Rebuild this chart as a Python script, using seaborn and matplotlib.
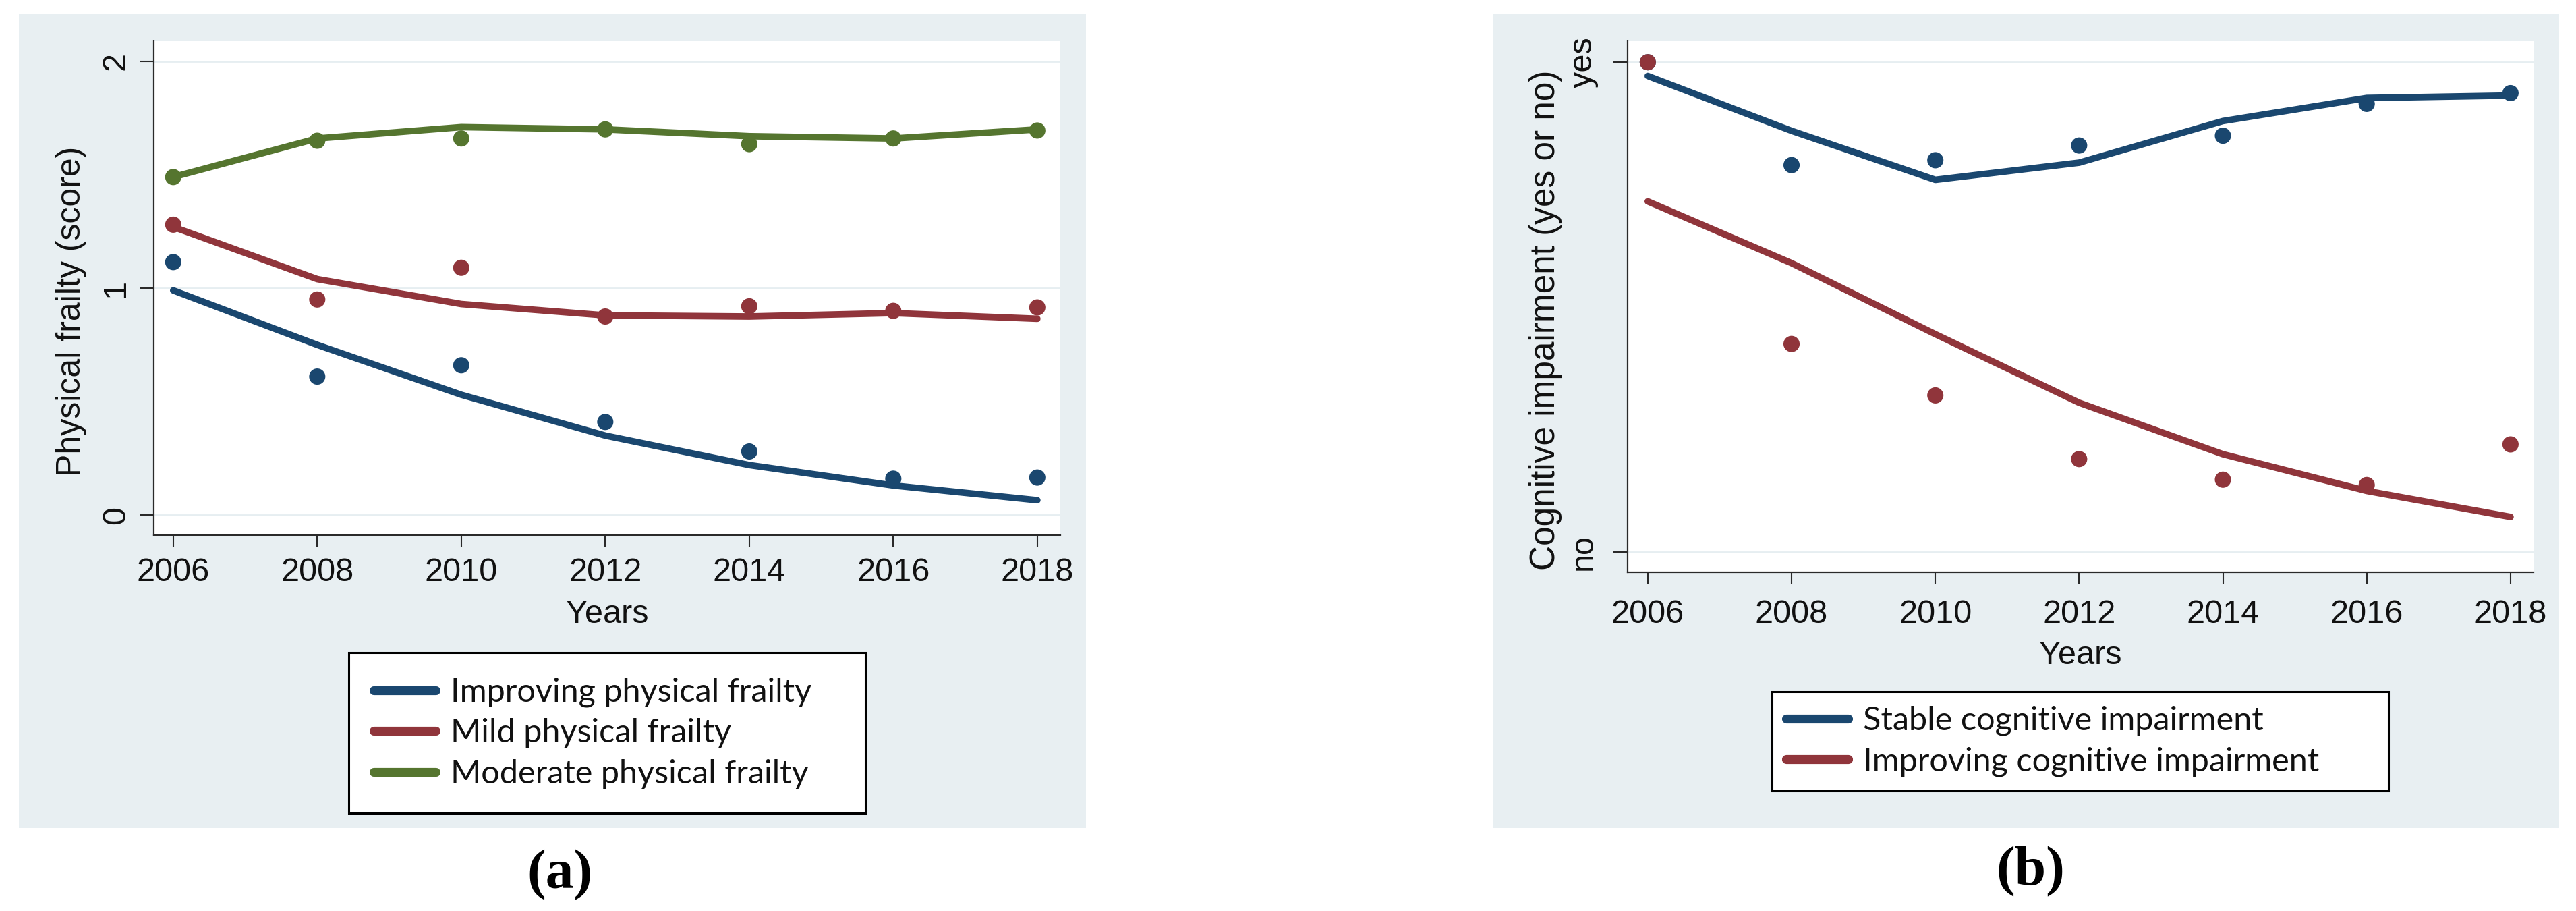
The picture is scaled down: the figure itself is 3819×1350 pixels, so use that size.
import pandas as pd
import seaborn as sns
import matplotlib.pyplot as plt
from matplotlib.patches import Rectangle
from matplotlib.lines import Line2D

years = [2006, 2008, 2010, 2012, 2014, 2016, 2018]

# panel (a): physical frailty, observed means and smoothed fit
frailty_groups = ['Improving physical frailty', 'Mild physical frailty', 'Moderate physical frailty']
improving_obs = [1.115, 0.61, 0.66, 0.41, 0.28, 0.16, 0.165]
improving_fit = [0.99, 0.75, 0.53, 0.35, 0.22, 0.13, 0.065]
mild_obs = [1.28, 0.95, 1.09, 0.875, 0.92, 0.90, 0.915]
mild_fit = [1.27, 1.04, 0.93, 0.88, 0.875, 0.89, 0.865]
moderate_obs = [1.49, 1.65, 1.66, 1.70, 1.635, 1.66, 1.695]
moderate_fit = [1.49, 1.66, 1.71, 1.70, 1.67, 1.66, 1.70]

# panel (b): cognitive impairment
cog_groups = ['Stable cognitive impairment', 'Improving cognitive impairment']
stable_obs = [1.0, 0.79, 0.80, 0.83, 0.85, 0.915, 0.937]
stable_fit = [0.972, 0.86, 0.76, 0.795, 0.88, 0.927, 0.932]
improving_cog_obs = [1.0, 0.425, 0.32, 0.19, 0.148, 0.137, 0.22]
improving_cog_fit = [0.716, 0.59, 0.445, 0.305, 0.20, 0.125, 0.072]

navy, maroon, green = '#1a476f', '#90353b', '#55752f'
bg = '#e8eff2'


def long_table(groups, obs_list, fit_list):
    rows = []
    for g, obs, fit in zip(groups, obs_list, fit_list):
        for y, o, f in zip(years, obs, fit):
            rows.append({'group': g, 'year': y, 'observed': o, 'fitted': f})
    return pd.DataFrame(rows)


df_a = long_table(frailty_groups, [improving_obs, mild_obs, moderate_obs],
                  [improving_fit, mild_fit, moderate_fit])
df_b = long_table(cog_groups, [stable_obs, improving_cog_obs],
                  [stable_fit, improving_cog_fit])

sns.set_theme(style='white')
plt.rcParams['font.family'] = ['Liberation Sans', 'DejaVu Sans']

W, H = 3819, 1350
fig = plt.figure(figsize=(W / 100, H / 100), dpi=100)
fig.patch.set_facecolor('white')


def px_rect(x0, y0, x1, y1):
    return [x0 / W, 1 - y1 / H, (x1 - x0) / W, (y1 - y0) / H]


# panel backgrounds
for x0, x1 in [(28, 1610), (2213, 3794)]:
    r = px_rect(x0, 21, x1, 1227)
    fig.add_artist(Rectangle((r[0], r[1]), r[2], r[3], transform=fig.transFigure,
                             facecolor=bg, edgecolor='none', zorder=0))

ax1 = fig.add_axes(px_rect(228, 61, 1572, 793))
ax2 = fig.add_axes(px_rect(2413, 61, 3756, 848))


def draw(ax, df, groups, palette):
    pal = dict(zip(groups, palette))
    sns.lineplot(data=df, x='year', y='fitted', hue='group', hue_order=groups,
                 palette=pal, lw=7, ax=ax, legend=False, zorder=3)
    sns.scatterplot(data=df, x='year', y='observed', hue='group', hue_order=groups,
                    palette=pal, s=300, edgecolor='none', ax=ax, legend=False, zorder=4)


def style(ax, xpad, ypad, label_xy, labelpad_x):
    ax.set_facecolor('white')
    for side in ['top', 'right']:
        ax.spines[side].set_visible(False)
    for side in ['left', 'bottom']:
        ax.spines[side].set_color('#2a2a2a')
        ax.spines[side].set_linewidth(1.6)
    ax.set_xticks(years)
    ax.set_xticklabels([str(y) for y in years])
    ax.tick_params(axis='x', length=13, width=1.5, color='#2a2a2a', pad=xpad,
                   labelsize=35, labelcolor='#111111', bottom=True)
    ax.tick_params(axis='y', length=15, width=1.5, color='#2a2a2a', pad=ypad,
                   labelsize=35, labelcolor='#111111', left=True, labelrotation=90)
    for lab in ax.get_yticklabels():
        lab.set_va('center')
    ax.yaxis.grid(True, color='#e6eef1', lw=2)
    ax.xaxis.grid(False)
    ax.set_xlabel('Years', fontsize=35, color='#111111', labelpad=labelpad_x)
    ax.yaxis.set_label_coords(*label_xy)


draw(ax1, df_a, frailty_groups, [navy, maroon, green])
ax1.set_xlim(2005.73, 2018.32)
ax1.set_ylim(-0.089, 2.089)
ax1.set_yticks([0, 1, 2])
ax1.set_yticklabels(['0', '1', '2'])
ax1.set_ylabel('Physical frailty (score)', fontsize=36, color='#111111')
style(ax1, xpad=11, ypad=9, label_xy=(-0.0737, 0.453), labelpad_x=12)

draw(ax2, df_b, cog_groups, [navy, maroon])
ax2.set_xlim(2005.72, 2018.32)
ax2.set_ylim(-0.041, 1.043)
ax2.set_yticks([0, 1])
ax2.set_yticklabels(['no', 'yes'])
ax2.set_ylabel('Cognitive impairment (yes or no)', fontsize=37, color='#111111')
style(ax2, xpad=16, ypad=16, label_xy=(-0.0722, 0.475), labelpad_x=11)


def add_legend(labels, colors, box, borderpad):
    x0, y0, x1, y1 = box
    handles = [Line2D([0], [0], color=c, lw=9.5) for c in colors]
    leg = fig.legend(handles, labels, loc='upper left',
                     bbox_to_anchor=(x0 / W, 1 - y1 / H, (x1 - x0) / W, (y1 - y0) / H),
                     bbox_transform=fig.transFigure, mode='expand', borderaxespad=0,
                     frameon=True, fancybox=False, borderpad=borderpad,
                     labelspacing=0.33, handlelength=1.9, handletextpad=0.45,
                     prop={'family': 'Lato', 'size': 35})
    fr = leg.get_frame()
    fr.set_edgecolor('black')
    fr.set_linewidth(2.2)
    fr.set_facecolor('white')
    fr.set_alpha(1)
    for t in leg.get_texts():
        t.set_color('#111111')
    return leg


add_legend(frailty_groups, [navy, maroon, green], (517, 967, 1283, 1205), 0.76)
add_legend(cog_groups, [navy, maroon], (2627, 1025, 3541, 1178), 0.43)

cap = dict(fontsize=60, fontweight='bold', family=['Liberation Serif', 'DejaVu Serif'],
           ha='center', va='center', color='black')
fig.text(830 / W, 1 - 1297 / H, '(a)', **cap)
fig.text(3010 / W, 1 - 1292 / H, '(b)', **cap)

fig.savefig('out.png', dpi=100, facecolor='white')
